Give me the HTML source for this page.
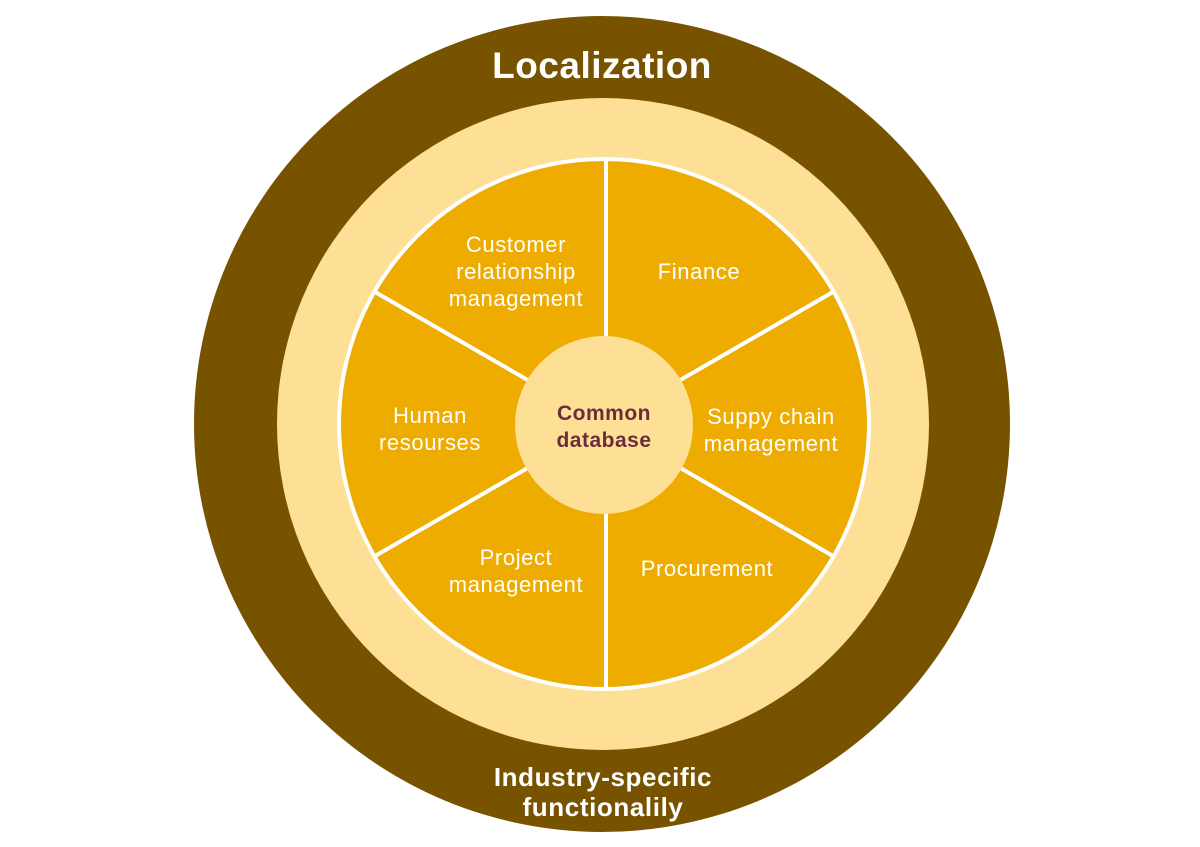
<!DOCTYPE html>
<html><head><meta charset="utf-8"><style>
html,body{margin:0;padding:0;background:#fff;}
svg{display:block}
</style></head><body>
<svg width="1200" height="847" viewBox="0 0 1200 847" xmlns="http://www.w3.org/2000/svg" font-family="Liberation Sans, sans-serif">
<circle cx="602" cy="424" r="408" fill="#775300"/>
<circle cx="603" cy="424" r="326" fill="#FDDF95"/>
<circle cx="604" cy="424" r="267" fill="#FFFFFF"/>
<circle cx="604" cy="424" r="263" fill="#EEAC00"/>
<g stroke="#fff" stroke-width="4">
<line x1="606" y1="160" x2="606" y2="688"/>
<line x1="604" y1="424" x2="375" y2="292"/>
<line x1="604" y1="424" x2="833" y2="292"/>
<line x1="604" y1="424" x2="375" y2="556"/>
<line x1="604" y1="424" x2="833" y2="556"/>
</g>
<circle cx="604" cy="425" r="89" fill="#FDDF95"/>
<text x="602" y="78" fill="#fff" font-size="37" font-weight="bold" text-anchor="middle" letter-spacing="0.5">Localization</text>
<text x="603" y="786" fill="#fff" font-size="26" font-weight="bold" text-anchor="middle" letter-spacing="0.6">Industry-specific</text>
<text x="603" y="816" fill="#fff" font-size="26" font-weight="bold" text-anchor="middle" letter-spacing="0.6">functionalily</text>
<g fill="#6B2D3B" font-size="21" font-weight="bold" text-anchor="middle" letter-spacing="0.5">
<text x="604" y="420">Common</text>
<text x="604" y="447">database</text>
</g>
<g fill="#fff" font-size="22" text-anchor="middle" letter-spacing="0.6">
<text x="516" y="252">Customer</text>
<text x="516" y="279">relationship</text>
<text x="516" y="306">management</text>
<text x="699" y="279">Finance</text>
<text x="430" y="423">Human</text>
<text x="430" y="450">resourses</text>
<text x="771" y="424">Suppy chain</text>
<text x="771" y="451">management</text>
<text x="516" y="565">Project</text>
<text x="516" y="592">management</text>
<text x="707" y="576">Procurement</text>
</g>
</svg>
</body></html>
